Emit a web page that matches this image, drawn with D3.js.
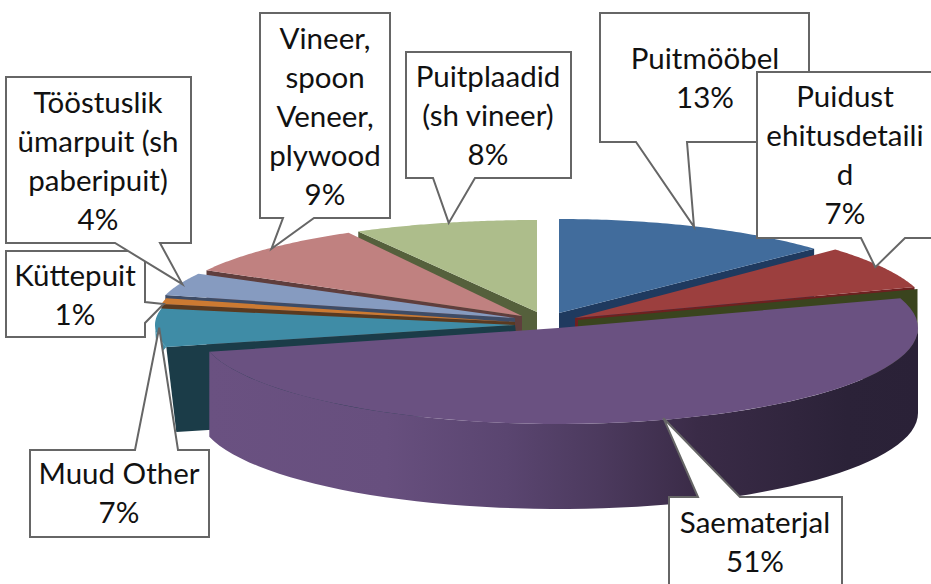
<!DOCTYPE html>
<html>
<head>
<meta charset="utf-8">
<script src="https://cdnjs.cloudflare.com/ajax/libs/d3/7.8.5/d3.min.js"></script>
<style>
  html, body { margin:0; padding:0; background:#fff; }
  svg { display:block; }
  text { font-family:Lato, "Open Sans", sans-serif; font-size:29.5px; fill:#111; text-anchor:middle; }
</style>
</head>
<body>
<div id="chart"></div>
<script>
var categories = ["Puitmööbel", "Puidust ehitusdetailid", "Saematerjal", "Muud Other", "Küttepuit",
                  "Tööstuslik ümarpuit", "Vineer", "Puitplaadid"];
var values = [13, 7, 51, 7, 1, 4, 9, 8];

// how each label wraps in its box
var labelLines = [
  ["Puitmööbel"],
  ["Puidust", "ehitusdetaili", "d"],
  ["Saematerjal"],
  ["Muud Other"],
  ["Küttepuit"],
  ["Tööstuslik", "ümarpuit (sh", "paberipuit)"],
  ["Vineer,", "spoon", "Veneer,", "plywood"],
  ["Puitplaadid", "(sh vineer)"]
];

var topColors = ["#416c9c", "#9c3f3e", "#6a5181", "#3f8ca6", "#cc7a32", "#869bc0", "#c08180", "#adbd8b"];
var faceColors = ["#1f3a5f", "#6e2020", null, "#1b3c48", "#5a3a20", "#3e4c66", "#5f3e3d", "#55603c"];

var width = 931, height = 584, depth = 85;

// every exploded slice has its own apex and ellipse, the original has perspective
var sliceShape = [
  {cx:559, cy:313, rx:350, ry:94},
  {cx:575, cy:318, rx:357, ry:100},
  {cx:558, cy:328, rx:360, ry:96},
  {cx:515, cy:325, rx:360, ry:88},
  {cx:515, cy:322, rx:360, ry:96, faceDepth:20},
  {cx:515, cy:318, rx:361, ry:92, faceDepth:20},
  {cx:522, cy:316, rx:360, ry:95},
  {cx:537, cy:312, rx:371, ry:92}
];

// label boxes, the pointer base sits on one side of the box
var callouts = [
  {i:0, x0:600, y0:13,  x1:809, y1:142, side:"bottom", a:636, b:687, tx:705, ty:69,  tipX:-4},
  {i:1, x0:757, y0:72,  x1:940, y1:238, side:"bottom", a:861, b:905, tx:845, ty:107, tipX:-7},
  {i:2, x0:669, y0:497, x1:842, y1:600, side:"top",    a:698, b:740, tx:755, ty:533, tipX:5, tipY:-2},
  {i:3, x0:30,  y0:450, x1:209, y1:537, side:"top",    a:135, b:178, tx:119, ty:484, tipX:4},
  {i:4, x0:6,   y0:251, x1:145, y1:337, side:"right",  a:302, b:323, tx:75,  ty:286, tipY:3},
  {i:5, x0:6,   y0:77,  x1:191, y1:243, side:"bottom", a:115, b:160, tx:98,  ty:113, tipX:3},
  {i:6, x0:260, y0:13,  x1:390, y1:218, side:"bottom", a:283, b:314, tx:325, ty:49,  tipX:4},
  {i:7, x0:406, y0:52,  x1:571, y1:178, side:"bottom", a:433, b:475, tx:488, ty:87,  tipX:4}
];
var lineHeight = 38.9;

var svg = d3.select("#chart").append("svg")
  .attr("width", width)
  .attr("height", height);

var slices = d3.pie().sort(null).value(function(d) { return d; })(values);

var project = function(s, angle) {
  return [s.cx + s.rx * Math.sin(angle), s.cy - s.ry * Math.cos(angle)];
};

var arcPoints = function(s, a0, a1) {
  return d3.range(0, 61).map(function(k) { return project(s, a0 + (a1 - a0) * k / 60); });
};

var line = d3.line();

// wall melts into the top colour on the left
var grad = svg.append("defs").append("linearGradient")
  .attr("id", "wall")
  .attr("gradientUnits", "userSpaceOnUse")
  .attr("x1", 209).attr("x2", 918).attr("y1", 0).attr("y2", 0);
grad.append("stop").attr("offset", 0).attr("stop-color", "#6a5181");
grad.append("stop").attr("offset", 0.25).attr("stop-color", "#674f7e");
grad.append("stop").attr("offset", 0.42).attr("stop-color", "#5a4570");
grad.append("stop").attr("offset", 0.55).attr("stop-color", "#4c3a5e");
grad.append("stop").attr("offset", 0.69).attr("stop-color", "#3a2b47");
grad.append("stop").attr("offset", 0.9).attr("stop-color", "#2b2238");
grad.append("stop").attr("offset", 1).attr("stop-color", "#2a2137");

// the cut side of a slice, dark, seen below the edge at the given angle
var drawFace = function(s, angle, color, dx, dy, lean) {
  var e = project(s, angle),
      h = s.faceDepth || depth;
  svg.append("path")
    .attr("d", line([
      [s.cx + dx, s.cy + dy], [e[0] + dx, e[1] + dy],
      [e[0] + dx + lean, e[1] + dy + h], [s.cx + dx + lean, s.cy + dy + h]
    ]) + "Z")
    .attr("fill", color);
};

var drawTop = function(s, d, color) {
  svg.append("path")
    .attr("d", line([[s.cx, s.cy]].concat(arcPoints(s, d.startAngle, d.endAngle))) + "Z")
    .attr("fill", color);
};

// painted back to front: back left slices, then back right, purple last
[7, 6, 5, 4, 3].forEach(function(i) {
  var s = sliceShape[i], d = slices[i];
  drawFace(s, d.startAngle, faceColors[i], 0, 0, i == 3 ? 10 : 0);
  if (i == 3) {
    // bit of the teal outer wall left of the cut side
    var top = arcPoints(s, d.startAngle, 1.5 * Math.PI),
        low = project(s, 1.5 * Math.PI);
    svg.append("path")
      .attr("d", line(top.concat([[low[0] + 2, low[1] + 33]])) + "Z")
      .attr("fill", topColors[i]);
  }
  drawTop(s, d, topColors[i]);
});

drawFace(sliceShape[0], slices[0].endAngle, faceColors[0], 0, 0, 0);
drawTop(sliceShape[0], slices[0], topColors[0]);

drawFace(sliceShape[1], slices[1].endAngle, faceColors[1], 0, 0, 0);
drawFace(sliceShape[1], slices[1].endAngle, "#3a441e", 3, 2, 0);
drawTop(sliceShape[1], slices[1], topColors[1]);

// purple front wall and top
var ps = sliceShape[2], pd = slices[2];
var wallTop = arcPoints(ps, Math.PI / 2, pd.endAngle);
var wallLow = wallTop.map(function(p) { return [p[0], p[1] + depth]; }).reverse();
svg.append("path")
  .attr("d", line(wallTop.concat(wallLow)) + "Z")
  .attr("fill", "url(#wall)");
drawTop(ps, pd, topColors[2]);

// callouts over the pie
callouts.forEach(function(c) {
  var d = slices[c.i],
      tip = project(sliceShape[c.i], (d.startAngle + d.endAngle) / 2);
  tip = [tip[0] + (c.tipX || 0), tip[1] + (c.tipY || 0)];

  var pts;
  if (c.side == "bottom") {
    pts = [[c.x0, c.y0], [c.x1, c.y0], [c.x1, c.y1], [c.b, c.y1], tip, [c.a, c.y1], [c.x0, c.y1]];
  } else if (c.side == "top") {
    pts = [[c.x0, c.y0], [c.a, c.y0], tip, [c.b, c.y0], [c.x1, c.y0], [c.x1, c.y1], [c.x0, c.y1]];
  } else {
    pts = [[c.x0, c.y0], [c.x1, c.y0], [c.x1, c.a], tip, [c.x1, c.b], [c.x1, c.y1], [c.x0, c.y1]];
  }

  svg.append("path")
    .attr("d", line(pts) + "Z")
    .attr("fill", "#fff")
    .attr("stroke", "#666")
    .attr("stroke-width", 2);

  var rows = labelLines[c.i].concat([values[c.i] + "%"]);
  svg.append("text")
    .attr("x", c.tx)
    .attr("y", c.ty)
    .attr("data-category", categories[c.i])
    .selectAll("tspan")
    .data(rows)
    .enter().append("tspan")
    .attr("x", c.tx)
    .attr("y", function(r, k) { return c.ty + k * lineHeight; })
    .text(function(r) { return r; });
});
</script>
</body>
</html>
